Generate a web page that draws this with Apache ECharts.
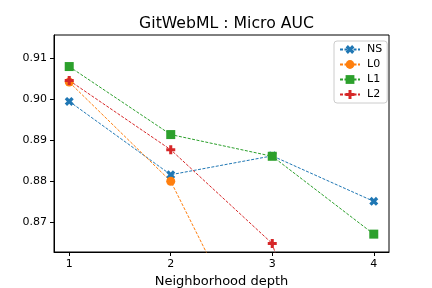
<!DOCTYPE html>
<html><head><meta charset="utf-8">
<script src="https://cdn.jsdelivr.net/npm/echarts@6/dist/echarts.min.js"></script>
<style>html,body{margin:0;padding:0;background:#fff}#c{width:432px;height:288px}</style>
</head><body><div id="c"></div>
<script>
const depths = [1, 2, 3, 4];
const nsVals = [0.8995, 0.8816, 0.8862, 0.8751];
const l0Vals = [0.9042, 0.8800, 0.8305, 0.8250];
const l1Vals = [0.9080, 0.8914, 0.8861, 0.8671];
const l2Vals = [0.9046, 0.8877, 0.8648, 0.7850];
const xTicks = [1, 2, 3, 4];
const yTicks = [0.87, 0.88, 0.89, 0.90, 0.91];
const names = ['NS', 'L0', 'L1', 'L2'];
const colors = ['#1f77b4', '#ff7f0e', '#2ca02c', '#d62728'];
const symX = 'path://M0,2.6 L2.6,0 L5,2.4 L7.4,0 L10,2.6 L7.6,5 L10,7.4 L7.4,10 L5,7.6 L2.6,10 L0,7.4 L2.4,5 Z';
const symP = 'path://M3.3,0 H6.7 V3.3 H10 V6.7 H6.7 V10 H3.3 V6.7 H0 V3.3 H3.3 Z';
const symbols = [symX, 'circle', 'rect', symP];
const sizes = [9, 9, 9, 9];
const allVals = [nsVals, l0Vals, l1Vals, l2Vals];
const font = 'DejaVu Sans';

const chart = echarts.init(document.getElementById('c'), null, {renderer: 'canvas'});
chart.setOption({
  animation: false,
  backgroundColor: '#fff',
  textStyle: {fontFamily: font},
  title: {
    text: 'GitWebML : Micro AUC',
    left: 221.5, top: 11, textAlign: 'center',
    textStyle: {fontFamily: font, fontSize: 15.7, fontWeight: 'normal', color: '#000'}
  },
  grid: {left: 54, right: 43, top: 35, bottom: 36, outerBoundsMode: 'none', containLabel: false, show: true, borderColor: '#000', borderWidth: 1, backgroundColor: 'transparent'},
  legend: {
    orient: 'vertical', left: 334, top: 41,
    data: names,
    itemWidth: 20, itemHeight: 11, itemGap: 4,
    padding: [3, 5, 3, 5],
    borderColor: '#cccccc', borderWidth: 1, borderRadius: 3,
    backgroundColor: 'rgba(255,255,255,0.8)',
    textStyle: {fontFamily: font, fontSize: 11, color: '#000', padding: [0, 0, 0, 2]}
  },
  xAxis: {
    type: 'value', min: 0.85, max: 4.15,
    name: 'Neighborhood depth', nameLocation: 'middle', nameGap: 17,
    nameTextStyle: {fontFamily: font, fontSize: 13, color: '#000'},
    axisLine: {show: true, onZero: false, lineStyle: {color: '#000', width: 1}},
    axisTick: {show: true, length: 4, customValues: xTicks, lineStyle: {color: '#000'}},
    axisLabel: {show: true, margin: 7, customValues: xTicks, fontFamily: font, fontSize: 11, color: '#000', formatter: v => String(v)},
    splitLine: {show: false}
  },
  yAxis: {
    type: 'value', min: 0.86274, max: 0.9157,
    axisLine: {show: true, onZero: false, lineStyle: {color: '#000', width: 1}},
    axisTick: {show: true, length: 4, customValues: yTicks, lineStyle: {color: '#000'}},
    axisLabel: {show: true, margin: 7, customValues: yTicks, fontFamily: font, fontSize: 11, color: '#000', formatter: v => v.toFixed(2)},
    splitLine: {show: false}
  },
  series: names.map((n, i) => ({
    name: n, type: 'line',
    data: depths.map((d, j) => [d, allVals[i][j]]),
    symbol: symbols[i], symbolSize: sizes[i], showAllSymbol: true,
    clip: true,
    itemStyle: {color: colors[i], borderWidth: 0},
    lineStyle: {color: colors[i], width: 1, type: [3, 1.5]},
    emphasis: {disabled: true}
  }))
});
</script></body></html>
